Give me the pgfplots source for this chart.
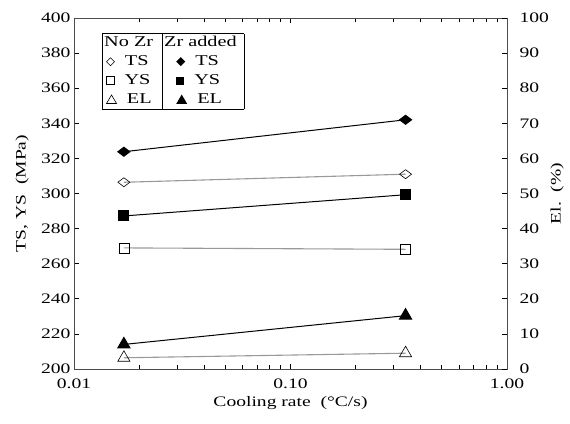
\documentclass[border=0pt]{standalone}
\usepackage{pgfplots}
\pgfplotsset{compat=1.18}
\usepackage{fontspec}
\setmainfont{Liberation Serif}[FakeStretch=1.35]
\pgfkeys{/pgf/number format/assume math mode=true}
\begin{document}
\begin{tikzpicture}
\begin{axis}[
  scale only axis, width=433pt, height=351pt,
  xmode=log, xmin=0.01, xmax=1,
  tick style={black, line width=0.8pt},
  major tick length=5pt, minor tick length=4pt,
  axis line style={black!70, line width=0.8pt},
  tick label style={font=\fontsize{14.5}{17}\selectfont},
  label style={font=\fontsize{14.5}{17}\selectfont},
  xticklabel style={yshift=-6pt},
  ymin=200, ymax=400, ytick={200,220,...,400},
  ytick pos=left,
  xtick={0.01,0.1,1}, xticklabels={0.01,0.10,1.00},
  xlabel={Cooling rate\ \ (\textdegree C/s)},
  ylabel={TS, YS\ \ (MPa)},
  xlabel style={at={(axis description cs:0.5,-0.096)}, anchor=center},
  ylabel style={at={(axis description cs:-0.12,0.5)}, anchor=center},
]
\addplot[black!40, line width=1.1pt, mark=diamond, mark size=6pt, mark options={rotate=90, fill=white, draw=black, line width=0.6pt}] coordinates {(0.017,306.4) (0.34,311)};
\addplot[black, line width=1pt, mark=diamond*, mark size=6pt, mark options={rotate=90, fill=black, draw=black}] coordinates {(0.017,323.8) (0.34,342)};
\addplot[black!40, line width=1.1pt, mark=square, mark size=5pt, mark options={fill=white, draw=black, line width=0.6pt}] coordinates {(0.017,269) (0.34,268.2)};
\addplot[black, line width=1pt, mark=square*, mark size=5pt, mark options={fill=black, draw=black}] coordinates {(0.017,287.2) (0.34,299.3)};
\coordinate (sw) at (rel axis cs:0,0);
\coordinate (ne) at (rel axis cs:1,1);
\coordinate (legpos) at (rel axis cs:0.0647,0.957);
\end{axis}
\begin{axis}[
  scale only axis, width=433pt, height=351pt,
  xmode=log, xmin=0.01, xmax=1,
  tick style={black, line width=0.8pt},
  major tick length=5pt, minor tick length=4pt,
  axis line style={black!70, line width=0.8pt},
  tick label style={font=\fontsize{14.5}{17}\selectfont},
  label style={font=\fontsize{14.5}{17}\selectfont},
  yticklabel style={xshift=9pt},
  ymin=0, ymax=100, ytick={0,10,...,100},
  axis x line=none,
  axis y line*=right,
  ylabel={El.\ \ (\%)},
  ylabel style={at={(axis description cs:1.116,0.5)}, anchor=center},
]
\addplot[black!40, line width=1.1pt, mark=triangle, mark size=7pt, mark options={fill=white, draw=black, line width=0.6pt}] coordinates {(0.017,3.2) (0.34,4.5)};
\addplot[black, line width=1pt, mark=triangle*, mark size=7pt, mark options={fill=black, draw=black}] coordinates {(0.017,7) (0.34,15.2)};
\end{axis}
\node[anchor=north west, inner sep=0pt, fill=white] at (legpos) {%
  \fontsize{15}{17.5}\selectfont
  \setlength{\tabcolsep}{2pt}\renewcommand{\arraystretch}{1.08}%
  \begin{tabular}{|p{56pt}|p{78pt}|}\hline
  No Zr & Zr added\\
  \hspace{2pt}\tikz[baseline=-0.6ex]\draw[line width=0.6pt] (0,4pt)--(4pt,0)--(0,-4pt)--(-4pt,0)--cycle;\ \ TS &
  \hspace{12pt}\tikz[baseline=-0.6ex]\fill (0,4.5pt)--(4.5pt,0)--(0,-4.5pt)--(-4.5pt,0)--cycle;\ \ TS\\
  \hspace{2pt}\tikz[baseline=-0.6ex]\draw[line width=0.6pt] (-3.8pt,-3.8pt) rectangle (3.8pt,3.8pt);\ \ YS &
  \hspace{12pt}\tikz[baseline=-0.6ex]\fill (-4pt,-4pt) rectangle (4pt,4pt);\ \ YS\\
  \hspace{2pt}\tikz[baseline=-0.6ex]\draw[line width=0.6pt] (0,4.5pt)--(5pt,-4pt)--(-5pt,-4pt)--cycle;\ \ EL &
  \hspace{12pt}\tikz[baseline=-0.6ex]\fill (0,5pt)--(5.5pt,-4.5pt)--(-5.5pt,-4.5pt)--cycle;\ \ EL\\\hline
  \end{tabular}};
\pgfresetboundingbox
\path ([shift={(-74pt,-54pt)}]sw) rectangle ([shift={(63pt,18pt)}]ne);
\end{tikzpicture}
\end{document}
